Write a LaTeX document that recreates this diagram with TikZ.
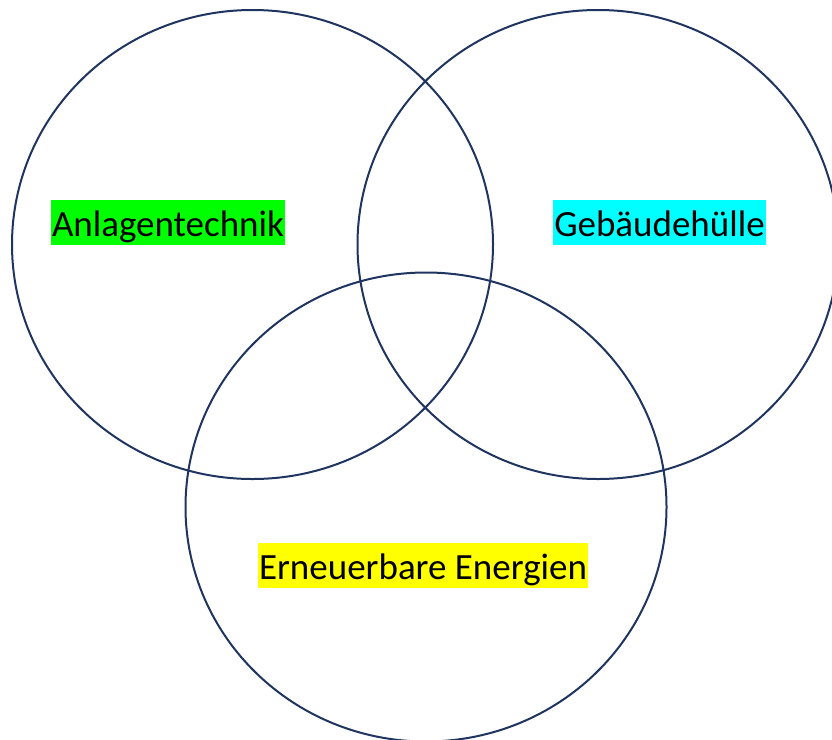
\documentclass[tikz,border=0pt]{standalone}
\usepackage{fontspec}
\setmainfont{Carlito}
\usetikzlibrary{shapes.geometric}
\definecolor{ringcol}{RGB}{31,52,95}
\definecolor{hlgreen}{RGB}{0,255,0}
\definecolor{hlcyan}{RGB}{0,255,255}
\definecolor{hlyellow}{RGB}{255,255,0}
\tikzset{
  ring/.style={ellipse, draw=ringcol, line width=2pt, minimum width=481pt, minimum height=469pt, inner sep=0pt},
  label/.style={font=\fontsize{37}{44}\selectfont, text height=31pt, text depth=4pt, inner ysep=5pt, inner xsep=1.5pt, text=black}
}
\begin{document}
\begin{tikzpicture}[x=1pt,y=-1pt]
\useasboundingbox (0,0) rectangle (832,739);
\clip (0,0) rectangle (832,739);
\node[ring] (left) at (252.5,244.5) {};
\node[ring] (right) at (598,244.5) {};
\node[ring] (bottom) at (426,507) {};
\node[label, fill=hlgreen] (anl) at (168,222.5) {Anlagentechnik};
\node[label, fill=hlcyan] (geb) at (659.5,222.5) {Gebäudehülle};
\node[label, fill=hlyellow] (ern) at (423,565.5) {Erneuerbare Energien};
\end{tikzpicture}
\end{document}
